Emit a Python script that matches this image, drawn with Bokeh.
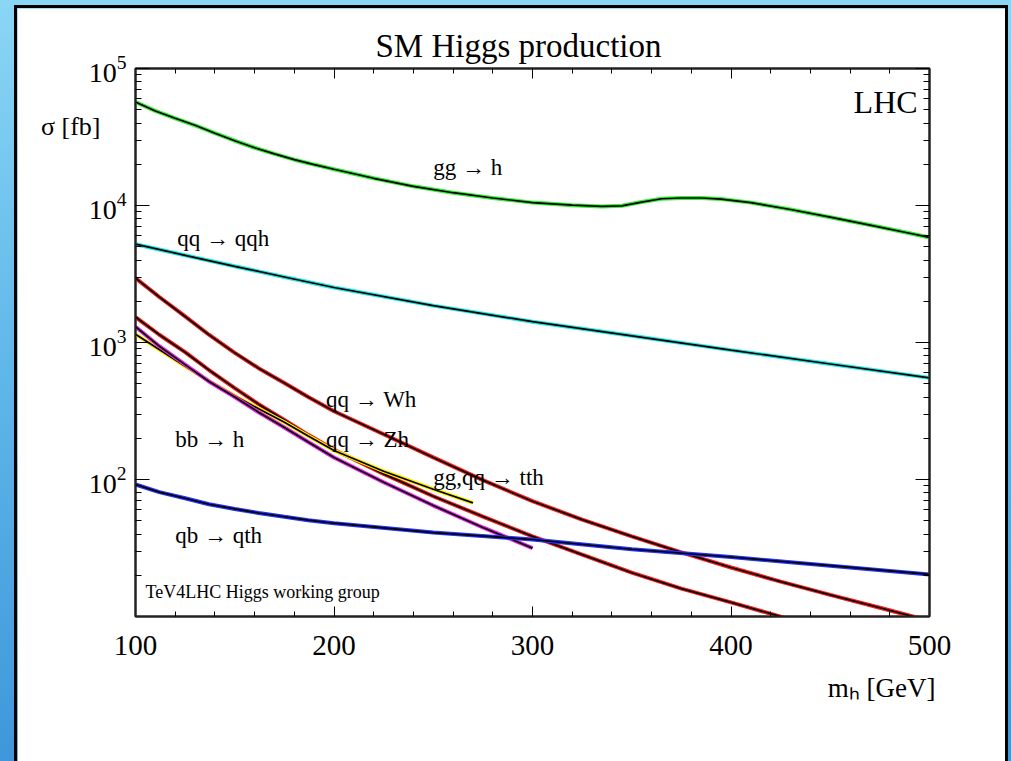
from bokeh.plotting import figure
from bokeh.models import (LinearAxis, LogAxis, Range1d, SingleIntervalTicker, Title, Label,
                          LogTicker, FixedTicker, CustomJSTickFormatter, ColumnDataSource)
from bokeh.layouts import column
from bokeh.core.properties import value
from bokeh.embed import file_html
from bokeh.resources import INLINE

# ---------------- data (m_h in GeV, sigma in fb) ----------------
gg_m = [100, 110, 120, 130, 140, 150, 160, 170, 180, 190, 200, 220, 240, 260, 280, 300,
        320, 335, 345, 355, 365, 375, 385, 395, 410, 430, 450, 470, 490, 500]
gg_s = [56900, 49000, 43300, 38500, 33700, 29700, 26400, 23800, 21600, 19900, 18400, 15800,
        13800, 12400, 11350, 10500, 10050, 9850, 9950, 10600, 11200, 11350, 11350, 11150,
        10500, 9350, 8220, 7200, 6270, 5850]

qqh_m = [100, 125, 150, 175, 200, 250, 300, 350, 400, 450, 500]
qqh_s = [5220, 4330, 3600, 3010, 2520, 1860, 1420, 1120, 880, 697, 552]

wh_m = [100, 112, 125, 137, 150, 162, 175, 187, 200, 225, 250, 275, 300, 325, 350, 375, 400,
        425, 450, 475, 500]
wh_s = [2950, 2150, 1550, 1140, 841, 650, 507, 400, 315, 214, 145, 99, 69.5, 51, 38.5, 29.4,
        22.8, 18.0, 14.4, 11.6, 9.3]

zh_m = [100, 112, 125, 137, 150, 162, 175, 187, 200, 225, 250, 275, 300, 325, 350, 375, 400,
        425, 450, 475, 500]
zh_s = [1535, 1140, 850, 630, 465, 355, 272, 212, 165, 110, 75.5, 53.7, 38.5, 28.3, 20.9,
        16.0, 12.7, 10.0, 7.9, 6.4, 5.3]

tth_m = [100, 110, 125, 137, 150, 162, 175, 187, 200, 225, 250, 270]
tth_s = [1150, 927, 670, 525, 409, 328, 262, 208, 163, 115, 85, 67.6]

bbh_m = [100, 112, 125, 137, 150, 162, 175, 187, 200, 225, 250, 275, 300]
bbh_s = [1305, 940, 690, 520, 400, 310, 240, 188, 145, 95.5, 64.6, 44.7, 31.6]

qth_m = [100, 112, 125, 137, 150, 162, 175, 187, 200, 250, 300, 350, 400, 450, 500]
qth_s = [92, 81, 73, 66, 61, 57, 53.5, 50.5, 48, 41, 36.5, 31, 27.2, 23.5, 20.3]

label_text = ["gg \u2192 h", "qq \u2192 qqh", "qq \u2192 Wh", "bb \u2192 h",
              "qq \u2192 Zh", "gg,qq \u2192 tth", "qb \u2192 qth"]
label_m = [250, 121, 196, 120, 196, 250, 120]
label_s = [19000, 5780, 382, 195, 195, 103, 39]

y_title = "\u03c3 [fb]"
y_title_at = 38000

SERIF = "Liberation Serif"

p = figure(width=988, height=753, x_range=Range1d(100, 500), y_range=Range1d(10.01, 1e5),
           y_axis_type="log", output_backend="svg", toolbar_location=None,
           min_border_left=118, min_border_right=76, min_border_top=60, min_border_bottom=145,
           background_fill_color="white", border_fill_color="white")
p.margin = (8, 6, 0, 17)
p.styles = {"box-shadow": "0 0 0 3px black"}

p.title.text = "SM Higgs production"
p.title.align = "left"
p.title.offset = 240
p.title.text_font = SERIF
p.title.text_font_style = "normal"
p.title.text_font_size = "33px"
p.title.text_color = "black"

p.grid.visible = False
p.outline_line_color = "#222222"
p.outline_line_width = 2

# bottom x axis
xa = p.xaxis[0]
xa.ticker = SingleIntervalTicker(interval=100, num_minor_ticks=5)
xa.major_tick_in = 10
xa.major_tick_out = 0
xa.minor_tick_in = 5
xa.minor_tick_out = 0
xa.major_label_standoff = 19
xa.major_label_text_font = SERIF
xa.major_label_text_font_size = "29px"
xa.major_label_text_color = "black"
xa.axis_line_color = "#222222"
xa.axis_line_width = 2

# left y axis
ya = p.yaxis[0]
ya.ticker = LogTicker(num_minor_ticks=10)
ya.major_tick_in = 14
ya.major_tick_out = 0
ya.minor_tick_in = 6
ya.minor_tick_out = 0
ya.major_label_standoff = 9
ya.major_label_text_font = SERIF
ya.major_label_text_font_size = "28px"
ya.major_label_text_color = "black"
ya.axis_line_color = "#222222"
ya.axis_line_width = 2

# y title drawn as the single label of an extra, invisible left axis
ytitle_axis = LogAxis(ticker=FixedTicker(ticks=[y_title_at], minor_ticks=[]),
                      major_label_overrides={y_title_at: y_title},
                      major_label_standoff=-15, major_tick_in=0, major_tick_out=0,
                      minor_tick_in=0, minor_tick_out=0, axis_line_color=None,
                      major_tick_line_color=None, minor_tick_line_color=None,
                      major_label_text_font=SERIF, major_label_text_font_size="26px",
                      major_label_text_color="black")
p.add_layout(ytitle_axis, "left")

blank = CustomJSTickFormatter(code="return ''")
top = LinearAxis(ticker=SingleIntervalTicker(interval=100, num_minor_ticks=5), formatter=blank,
                 major_tick_in=10, major_tick_out=0, minor_tick_in=5, minor_tick_out=0,
                 major_label_standoff=0, axis_line_color="#222222", axis_line_width=2)
p.add_layout(top, "above")
right = LogAxis(ticker=LogTicker(num_minor_ticks=10), formatter=blank,
                major_tick_in=14, major_tick_out=0, minor_tick_in=6, minor_tick_out=0,
                major_label_standoff=0, axis_line_color="#222222", axis_line_width=2)
p.add_layout(right, "right")

xlab = Title(text="m\u2095 [GeV]", align="right", offset=-6, standoff=26, text_font=SERIF,
             text_font_style="normal", text_font_size="27px", text_color="black")
p.add_layout(xlab, "below")

curves = [(gg_m, gg_s, "#33ee33"), (qqh_m, qqh_s, "#22e5e5"), (wh_m, wh_s, "#ff1a1a"),
          (zh_m, zh_s, "#ff1a1a"), (tth_m, tth_s, "#ffee00"), (bbh_m, bbh_s, "#ee22ee"),
          (qth_m, qth_s, "#2233ff")]
for mm, ss, col in curves:
    src = ColumnDataSource(dict(m=mm, s=ss))
    p.line("m", "s", source=src, line_color=col, line_width=4.0)
    p.line("m", "s", source=src, line_color="black", line_width=1.7)

lab_src = ColumnDataSource(dict(m=label_m, s=label_s, t=label_text))
p.text("m", "s", text="t", source=lab_src, text_font=value(SERIF), text_font_size="23px",
       text_baseline="middle", text_align="left", text_color="black")

p.add_layout(Label(x=494, y=56500, text="LHC", text_font=SERIF, text_font_size="32px",
                   text_align="right", text_baseline="middle", text_color="black"))
p.add_layout(Label(x=105, y=15, text="TeV4LHC Higgs working group", text_font=SERIF,
                   text_font_size="18px", text_align="left", text_baseline="middle",
                   text_color="black"))

layout = column(p, width=1011, height=761,
                styles={"background": "linear-gradient(180deg, #8ad6f5 0%, #62b9ea 45%, #3e97da 100%)"})

open("out.html", "w").write(file_html(layout, INLINE))
